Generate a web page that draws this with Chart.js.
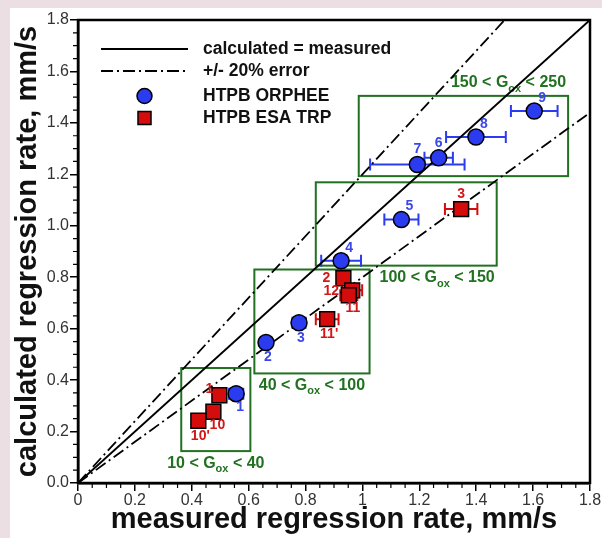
<!DOCTYPE html>
<html lang="en">
<head>
    <meta charset="UTF-8">
    <title>Regression rate</title>
    <script src="https://cdn.jsdelivr.net/npm/chart.js"></script>
    <style>
        body {
            margin: 0;
            background-color: #ecdfe4;
            width: 602px;
            height: 538px;
            overflow: hidden;
        }
        #chartContainer {
            position: absolute;
            left: 10px;
            top: 8px;
            width: 592px;
            height: 530px;
            background-color: #ffffff;
        }
    </style>
</head>
<body>
    <div id="chartContainer">
        <canvas id="rateChart" width="592" height="530"></canvas>
    </div>
    <script>
        // tick labels
        const xTickLabels = ['0', '0.2', '0.4', '0.6', '0.8', '1', '1.2', '1.4', '1.6', '1.8'];
        const yTickLabels = ['0.0', '0.2', '0.4', '0.6', '0.8', '1.0', '1.2', '1.4', '1.6', '1.8'];

        // HTPB ORPHEE (measured, calculated, error on measured)
        const orpheeNames = ['1', '2', '3', '4', '5', '6', '7', '8', '9'];
        const orpheeX = [0.556, 0.661, 0.777, 0.925, 1.137, 1.268, 1.193, 1.399, 1.604];
        const orpheeY = [0.347, 0.546, 0.623, 0.864, 1.024, 1.264, 1.238, 1.345, 1.446];
        const orpheeErr = [0.025, 0.01, 0.023, 0.07, 0.06, 0.05, 0.166, 0.105, 0.082];
        const orpheeLabelPos = ['se', 's', 's', 'ne', 'ne', 'n', 'n', 'ne', 'ne'];

        // HTPB ESA TRP
        const esaNames = ['1', '10', "10'", '2', '12', '11', "11'", '3'];
        const esaX = [0.497, 0.476, 0.423, 0.933, 0.964, 0.952, 0.876, 1.347];
        const esaY = [0.341, 0.277, 0.242, 0.796, 0.749, 0.73, 0.637, 1.065];
        const esaErr = [0.01, 0, 0, 0.015, 0.035, 0.03, 0.04, 0.057];
        const esaLabelPos = ['nw', 'se', 's', 'w', 'ww', 'se', 's', 'n'];

        // reference lines
        const equalLine = [{x: 0, y: 0}, {x: 1.8, y: 1.8}];
        const upperLine = [{x: 0, y: 0}, {x: 1.5, y: 1.8}];
        const lowerLine = [{x: 0, y: 0}, {x: 1.8, y: 1.44}];

        // G_ox ranges: [xmin, xmax, ymin, ymax]
        const boxLow = ['10', '40', '100', '150'];
        const boxHigh = ['40', '100', '150', '250'];
        const boxX0 = [0.363, 0.62, 0.836, 0.987];
        const boxX1 = [0.606, 1.025, 1.472, 1.723];
        const boxY0 = [0.124, 0.426, 0.845, 1.193];
        const boxY1 = [0.447, 0.83, 1.169, 1.505];
        const boxLabelPos = ['below-center', 'below-center', 'below-right', 'above-right'];

        const green = '#217121';
        const blue = '#2b3cf0';
        const red = '#d40c0c';
        const labelBlue = '#3a47e6';
        const labelRed = '#d31616';
        const font = '"Liberation Sans", Arial, sans-serif';

        function toPoints(xs, ys) {
            return xs.map(function(x, i) { return {x: x, y: ys[i]}; });
        }

        const labelOffsets = {
            n: [0, -15], s: [2, 15], ne: [8, -13], se: [4, 13],
            nw: [-10, -6], w: [-17, 0], ww: [-21, 1]
        };

        const boxesAndBars = {
            id: 'boxesAndBars',
            beforeDatasetsDraw(chart) {
                const ctx = chart.ctx;
                const xs = chart.scales.x;
                const ys = chart.scales.y;
                ctx.save();
                // G_ox boxes
                ctx.strokeStyle = green;
                ctx.lineWidth = 2;
                ctx.fillStyle = green;
                ctx.textBaseline = 'middle';
                for (let i = 0; i < boxX0.length; i++) {
                    const l = xs.getPixelForValue(boxX0[i]);
                    const r = xs.getPixelForValue(boxX1[i]);
                    const t = ys.getPixelForValue(boxY1[i]);
                    const b = ys.getPixelForValue(boxY0[i]);
                    ctx.strokeRect(l, t, r - l, b - t);

                    const main = 'bold 16px ' + font;
                    const sub = 'bold 11px ' + font;
                    const p1 = boxLow[i] + ' < G';
                    const p2 = 'ox';
                    const p3 = ' < ' + boxHigh[i];
                    ctx.font = main;
                    const w1 = ctx.measureText(p1).width;
                    const w3 = ctx.measureText(p3).width;
                    ctx.font = sub;
                    const w2 = ctx.measureText(p2).width;
                    const total = w1 + w2 + w3;
                    const pos = boxLabelPos[i];
                    let lx = pos.indexOf('right') >= 0 ? r - total - 2 : (l + r) / 2 - total / 2;
                    let ly = pos.indexOf('above') >= 0 ? t - 13 : b + 12;
                    ctx.textAlign = 'left';
                    ctx.font = main;
                    ctx.fillText(p1, lx, ly);
                    ctx.font = sub;
                    ctx.fillText(p2, lx + w1, ly + 6);
                    ctx.font = main;
                    ctx.fillText(p3, lx + w1 + w2, ly);
                }
                // horizontal error bars
                ctx.lineWidth = 2;
                const drawBars = function(xv, yv, err, color) {
                    ctx.strokeStyle = color;
                    for (let i = 0; i < xv.length; i++) {
                        if (!err[i]) continue;
                        const a = xs.getPixelForValue(xv[i] - err[i]);
                        const c = xs.getPixelForValue(xv[i] + err[i]);
                        const y = ys.getPixelForValue(yv[i]);
                        ctx.beginPath();
                        ctx.moveTo(a, y); ctx.lineTo(c, y);
                        ctx.moveTo(a, y - 6); ctx.lineTo(a, y + 6);
                        ctx.moveTo(c, y - 6); ctx.lineTo(c, y + 6);
                        ctx.stroke();
                    }
                };
                drawBars(orpheeX, orpheeY, orpheeErr, blue);
                drawBars(esaX, esaY, esaErr, red);
                ctx.restore();
            },
            afterDatasetsDraw(chart) {
                const ctx = chart.ctx;
                const xs = chart.scales.x;
                const ys = chart.scales.y;
                const area = chart.chartArea;
                ctx.save();
                // point numbers
                ctx.font = 'bold 14px ' + font;
                ctx.textAlign = 'center';
                ctx.textBaseline = 'middle';
                const drawNames = function(names, xv, yv, posList, color) {
                    ctx.fillStyle = color;
                    for (let i = 0; i < names.length; i++) {
                        const off = labelOffsets[posList[i]];
                        ctx.fillText(names[i], xs.getPixelForValue(xv[i]) + off[0], ys.getPixelForValue(yv[i]) + off[1]);
                    }
                };
                drawNames(orpheeNames, orpheeX, orpheeY, orpheeLabelPos, labelBlue);
                drawNames(esaNames, esaX, esaY, esaLabelPos, labelRed);

                // frame
                ctx.strokeStyle = '#000';
                ctx.lineWidth = 2.5;
                ctx.strokeRect(area.left, area.top, area.right - area.left, area.bottom - area.top);

                // minor ticks
                ctx.lineWidth = 1.2;
                ctx.beginPath();
                for (let i = 1; i < 36; i++) {
                    if (i % 4 === 0) continue;
                    const v = i * 0.05;
                    const px = xs.getPixelForValue(v);
                    ctx.moveTo(px, area.bottom); ctx.lineTo(px, area.bottom + 5);
                    const py = ys.getPixelForValue(v);
                    ctx.moveTo(area.left, py); ctx.lineTo(area.left - 5, py);
                }
                ctx.stroke();

                // legend
                const lx0 = area.left + 23;
                const lx1 = area.left + 110;
                const tx = area.left + 125;
                const rows = [area.top + 29, area.top + 51, area.top + 76, area.top + 98];
                ctx.lineWidth = 2;
                ctx.beginPath();
                ctx.moveTo(lx0, rows[0]); ctx.lineTo(lx1, rows[0]);
                ctx.stroke();
                ctx.setLineDash([12, 4, 2, 4]);
                ctx.beginPath();
                ctx.moveTo(lx0, rows[1]); ctx.lineTo(lx1, rows[1]);
                ctx.stroke();
                ctx.setLineDash([]);
                const mx = (lx0 + lx1) / 2;
                ctx.lineWidth = 1.5;
                ctx.fillStyle = blue;
                ctx.beginPath();
                ctx.arc(mx, rows[2], 7.5, 0, Math.PI * 2);
                ctx.fill(); ctx.stroke();
                ctx.fillStyle = red;
                ctx.fillRect(mx - 6.5, rows[3] - 6.5, 13, 13);
                ctx.strokeRect(mx - 6.5, rows[3] - 6.5, 13, 13);
                ctx.fillStyle = '#111';
                ctx.font = 'bold 17.5px ' + font;
                ctx.textAlign = 'left';
                ctx.fillText('calculated = measured', tx, rows[0]);
                ctx.fillText('+/- 20% error', tx, rows[1]);
                ctx.fillText('HTPB ORPHEE', tx, rows[2]);
                ctx.fillText('HTPB ESA TRP', tx, rows[3]);
                ctx.restore();
            }
        };

        const ctx = document.getElementById('rateChart').getContext('2d');
        const rateChart = new Chart(ctx, {
            type: 'scatter',
            data: {
                datasets: [{
                    label: 'HTPB ESA TRP',
                    data: toPoints(esaX, esaY),
                    pointStyle: 'rect',
                    pointRadius: 10.5,
                    backgroundColor: red,
                    borderColor: '#000',
                    borderWidth: 1.5
                },
                {
                    label: 'HTPB ORPHEE',
                    data: toPoints(orpheeX, orpheeY),
                    pointStyle: 'circle',
                    pointRadius: 8,
                    backgroundColor: blue,
                    borderColor: '#000',
                    borderWidth: 1.5
                },
                {
                    label: 'calculated = measured',
                    data: equalLine,
                    showLine: true,
                    pointRadius: 0,
                    borderColor: '#000',
                    borderWidth: 2
                },
                {
                    label: '+20%',
                    data: upperLine,
                    showLine: true,
                    pointRadius: 0,
                    borderColor: '#000',
                    borderWidth: 1.8,
                    borderDash: [12, 4, 2, 4]
                },
                {
                    label: '-20%',
                    data: lowerLine,
                    showLine: true,
                    pointRadius: 0,
                    borderColor: '#000',
                    borderWidth: 1.8,
                    borderDash: [12, 4, 2, 4]
                }]
            },
            options: {
                responsive: false,
                animation: false,
                events: [],
                layout: {
                    padding: {top: 7, right: 10, left: 0, bottom: 0}
                },
                plugins: {
                    legend: {display: false},
                    tooltip: {enabled: false}
                },
                scales: {
                    x: {
                        type: 'linear',
                        min: 0,
                        max: 1.8,
                        afterFit: function(s) {
                            s.height = 55;
                            s.paddingLeft = 0;
                            s.paddingRight = 0;
                        },
                        grid: {
                            drawOnChartArea: false,
                            tickLength: 8,
                            color: '#000',
                            lineWidth: 1.5
                        },
                        border: {color: '#000', width: 2.5},
                        ticks: {
                            stepSize: 0.2,
                            padding: 0,
                            maxRotation: 0,
                            autoSkip: false,
                            color: '#333',
                            font: {family: font, size: 16},
                            callback: function(v, i) { return xTickLabels[i]; }
                        },
                        title: {
                            display: true,
                            text: 'measured regression rate, mm/s',
                            color: '#111',
                            padding: {top: 0, bottom: 1},
                            font: {family: font, size: 29, weight: 'bold'}
                        }
                    },
                    y: {
                        type: 'linear',
                        min: 0,
                        max: 1.8,
                        afterFit: function(s) {
                            s.width = 68;
                            s.paddingTop = 0;
                            s.paddingBottom = 0;
                        },
                        grid: {
                            drawOnChartArea: false,
                            tickLength: 8,
                            color: '#000',
                            lineWidth: 1.5
                        },
                        border: {color: '#000', width: 2.5},
                        ticks: {
                            stepSize: 0.2,
                            padding: 1,
                            autoSkip: false,
                            color: '#333',
                            font: {family: font, size: 16},
                            callback: function(v, i) { return yTickLabels[i]; }
                        },
                        title: {
                            display: true,
                            text: 'calculated regression rate, mm/s',
                            color: '#111',
                            padding: {top: 1, bottom: 0},
                            font: {family: font, size: 29, weight: 'bold'}
                        }
                    }
                }
            },
            plugins: [boxesAndBars]
        });
    </script>
</body>
</html>
